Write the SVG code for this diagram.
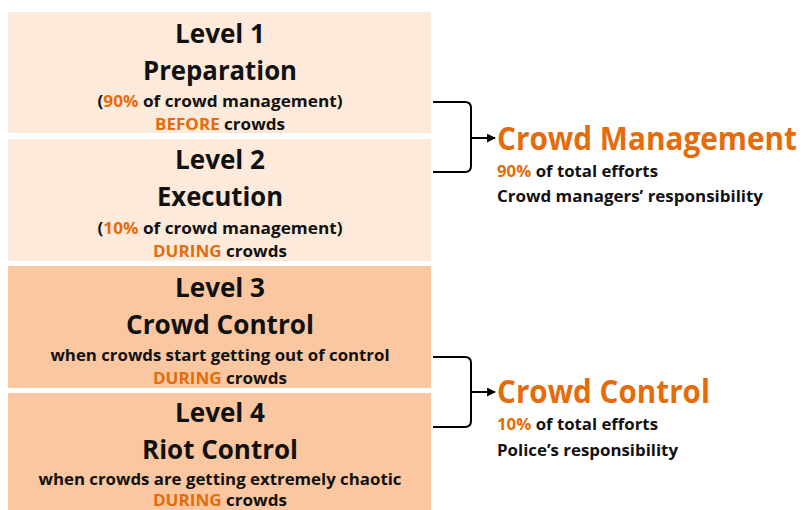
<svg xmlns="http://www.w3.org/2000/svg" width="806" height="510" viewBox="0 0 806 510">
  <defs>
    <marker id="arrow" viewBox="0 0 10 10" refX="9" refY="5" markerWidth="4.5" markerHeight="4.5" markerUnits="strokeWidth" orient="auto">
      <path d="M0,0 L10,5 L0,10 z" fill="#000"/>
    </marker>
    <style>
      text { font-family: "Open Sans", "Noto Sans", "Liberation Sans", sans-serif; font-weight: 700; fill: #111; }
      .c { text-anchor: middle; }
      .lvl { font-size: 27px; }
      .name { font-size: 27px; }
      .sub { font-size: 16.5px; }
      .big { font-size: 33px; fill: #E46C0A; }
      .big-narrow { font-size: 29px; }
      .hi { fill: #E46C0A; }
      .light { fill: #FDEADA; }
      .dark { fill: #FAC7A0; }
      .conn { fill: none; stroke: #000; stroke-width: 2; }
    </style>
  </defs>
  <rect width="806" height="510" fill="#fff"/>

  <g id="level1">
    <rect class="light" x="8" y="12" width="423" height="121"/>
    <text class="c lvl" x="220" y="43" textLength="90" lengthAdjust="spacingAndGlyphs">Level 1</text>
    <text class="c name" x="220" y="80" textLength="154" lengthAdjust="spacingAndGlyphs">Preparation</text>
    <text class="c sub" x="220" y="107" textLength="245" lengthAdjust="spacingAndGlyphs">(<tspan class="hi">90%</tspan> of crowd management)</text>
    <text class="c sub" x="220" y="130" textLength="130" lengthAdjust="spacingAndGlyphs"><tspan class="hi">BEFORE</tspan> crowds</text>
  </g>

  <g id="level2">
    <rect class="light" x="8" y="139" width="423" height="122"/>
    <text class="c lvl" x="220" y="169" textLength="90" lengthAdjust="spacingAndGlyphs">Level 2</text>
    <text class="c name" x="220" y="206" textLength="126" lengthAdjust="spacingAndGlyphs">Execution</text>
    <text class="c sub" x="220" y="234" textLength="245" lengthAdjust="spacingAndGlyphs">(<tspan class="hi">10%</tspan> of crowd management)</text>
    <text class="c sub" x="220" y="257" textLength="134" lengthAdjust="spacingAndGlyphs"><tspan class="hi">DURING</tspan> crowds</text>
  </g>

  <g id="level3">
    <rect class="dark" x="8" y="266" width="423" height="122"/>
    <text class="c lvl" x="220" y="297" textLength="90" lengthAdjust="spacingAndGlyphs">Level 3</text>
    <text class="c name" x="220" y="334" textLength="188" lengthAdjust="spacingAndGlyphs">Crowd Control</text>
    <text class="c sub" x="220" y="361" textLength="339" lengthAdjust="spacingAndGlyphs">when crowds start getting out of control</text>
    <text class="c sub" x="220" y="384" textLength="134" lengthAdjust="spacingAndGlyphs"><tspan class="hi">DURING</tspan> crowds</text>
  </g>

  <g id="level4">
    <rect class="dark" x="8" y="393" width="423" height="117"/>
    <text class="c lvl" x="220" y="422" textLength="90" lengthAdjust="spacingAndGlyphs">Level 4</text>
    <text class="c name" x="220" y="459" textLength="156" lengthAdjust="spacingAndGlyphs">Riot Control</text>
    <text class="c sub" x="220" y="485" textLength="363" lengthAdjust="spacingAndGlyphs">when crowds are getting extremely chaotic</text>
    <text class="c sub" x="220" y="506" textLength="134" lengthAdjust="spacingAndGlyphs"><tspan class="hi">DURING</tspan> crowds</text>
  </g>

  <g id="connectors">
    <path class="conn" d="M433,102 H465 Q471,102 471,108 V166 Q471,172 465,172 H433"/>
    <path class="conn" d="M471,138 H495" marker-end="url(#arrow)"/>
    <path class="conn" d="M433,357 H465 Q471,357 471,363 V421 Q471,427 465,427 H433"/>
    <path class="conn" d="M471,392 H495" marker-end="url(#arrow)"/>
  </g>

  <g id="crowd-management">
    <text class="big big-narrow" transform="translate(497,150) scale(1,1.12)" x="0" y="0" textLength="300" lengthAdjust="spacingAndGlyphs">Crowd Management</text>
    <text class="sub" x="497" y="177" textLength="161" lengthAdjust="spacingAndGlyphs"><tspan class="hi">90%</tspan> of total efforts</text>
    <text class="sub" x="497" y="202" textLength="266" lengthAdjust="spacingAndGlyphs">Crowd managers’ responsibility</text>
  </g>

  <g id="crowd-control">
    <text class="big" x="497" y="403" textLength="213" lengthAdjust="spacingAndGlyphs">Crowd Control</text>
    <text class="sub" x="497" y="430" textLength="161" lengthAdjust="spacingAndGlyphs"><tspan class="hi">10%</tspan> of total efforts</text>
    <text class="sub" x="497" y="456" textLength="181" lengthAdjust="spacingAndGlyphs">Police’s responsibility</text>
  </g>
</svg>
